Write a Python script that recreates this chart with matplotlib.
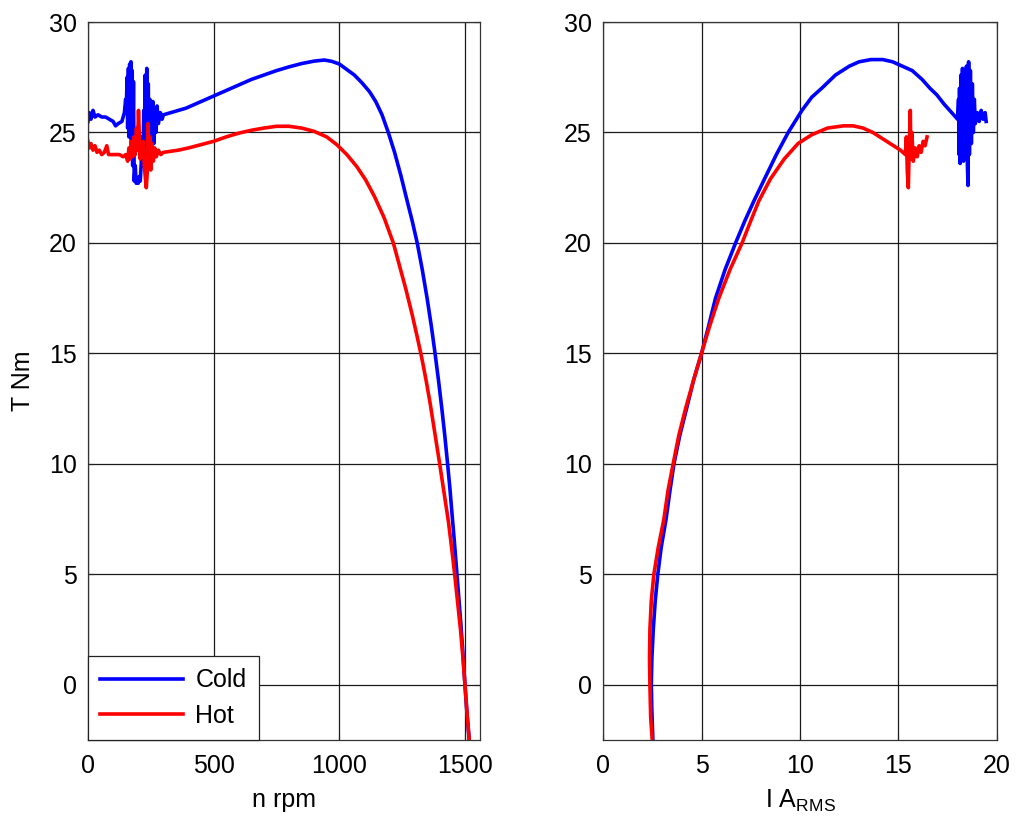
import matplotlib
matplotlib.use("Agg")
import matplotlib.pyplot as plt

plt.rcParams['font.family'] = ['Liberation Sans', 'DejaVu Sans']
plt.rcParams['mathtext.fontset'] = 'custom'
plt.rcParams['mathtext.rm'] = 'Liberation Sans'

# torque vs speed (rpm, Nm)
n_cold = [0, 5, 12, 20, 28, 40, 55, 70, 85, 100, 110, 120, 135, 145, 150,
          152, 156, 158, 161, 163, 166, 168, 171, 173, 176, 178, 181, 184, 188,
          192, 196, 200, 204, 208, 212, 216, 219, 222, 225, 228, 231, 234, 237,
          240, 243, 246, 249, 252, 255, 258, 262, 266, 270, 275, 280, 288, 295,
          300, 330, 360, 390, 420, 450, 500, 550, 600, 650, 700, 750, 800, 850,
          900, 940, 970, 1000, 1030, 1060, 1090, 1120, 1145, 1170, 1195, 1220,
          1245, 1270, 1290, 1310, 1330, 1350, 1366, 1381, 1395, 1408, 1420,
          1430, 1440, 1448, 1457, 1466, 1475, 1484, 1492, 1500, 1508, 1517]
t_cold = [25.5, 25.9, 25.6, 26.0, 25.7, 25.8, 25.7, 25.7, 25.6, 25.5, 25.3,
          25.4, 25.5, 25.9, 26.5,
          26.0, 27.5, 25.2, 27.9, 24.8, 28.1, 25.5, 28.2, 24.0, 27.8, 23.5,
          27.3, 22.8, 23.5, 22.7, 22.9, 22.7, 23.0, 22.8, 23.6, 24.8, 23.5,
          26.0, 25.2, 27.6, 24.0, 27.9, 24.5, 27.2, 23.8, 26.5, 23.6, 26.0,
          24.0, 26.4, 24.5, 26.0, 25.0, 26.2, 25.4, 25.9, 25.6,
          25.8, 25.9, 26.0, 26.1, 26.25, 26.4, 26.65, 26.9, 27.15, 27.4, 27.6,
          27.8, 27.97, 28.12, 28.23, 28.28, 28.22, 28.1, 27.85, 27.6, 27.25,
          26.85, 26.4, 25.8, 25.0, 24.1, 23.05, 21.9, 21.0, 20.0, 18.8, 17.45,
          16.25, 15.0, 13.75, 12.5, 11.25, 10.1, 8.9, 7.8, 6.6, 5.3, 4.0, 2.7,
          1.4, 0.0, -1.3, -2.5]

n_hot = [0, 6, 12, 20, 28, 36, 45, 55, 65, 75, 82, 95, 110, 125, 140, 150,
         158, 163, 168, 173, 178, 183, 188, 193, 197, 201, 205, 208, 212, 216,
         220, 224, 228, 232, 236, 239, 242, 246, 250, 255, 260, 266, 272, 280,
         290, 300, 330, 360, 400, 450, 500, 550, 600, 650, 700, 750, 800, 850,
         900, 950, 990, 1030, 1070, 1105, 1140, 1178, 1215, 1240, 1265, 1290,
         1310, 1328, 1345, 1362, 1380, 1398, 1416, 1434, 1448, 1460, 1472,
         1483, 1492, 1500, 1508, 1517]
t_hot = [24.6, 24.3, 24.5, 24.2, 24.4, 24.1, 24.2, 24.0, 24.1, 24.4, 24.0,
         24.0, 24.0, 24.0, 23.9, 24.0,
         23.7, 24.3, 23.8, 24.6, 23.9, 24.8, 24.0, 25.2, 24.2, 26.0, 24.6,
         23.8, 24.5, 24.0, 24.6, 23.5, 23.0, 22.5, 23.2, 25.4, 23.6, 24.8,
         23.3, 24.5, 23.7, 24.3, 23.9, 24.2, 24.0,
         24.1, 24.15, 24.2, 24.3, 24.45, 24.6, 24.8, 24.97, 25.1, 25.2, 25.28,
         25.28, 25.2, 25.05, 24.8, 24.45, 24.0, 23.45, 22.85, 22.1, 21.15,
         20.0, 18.95, 17.9, 16.75, 15.75, 14.8, 13.8, 12.7, 11.4, 10.1,
         8.75, 7.4, 6.1, 4.9, 3.6, 2.4, 1.2, 0.0, -1.25, -2.5]

# torque vs current (A rms, Nm)
i_cold = [2.53, 2.48, 2.45, 2.48, 2.55, 2.65, 2.78, 2.95, 3.2, 3.4, 3.6, 3.9,
          4.24, 4.6, 5.0, 5.35, 5.71, 6.2, 6.73, 7.2, 7.66, 8.2, 8.8, 9.4,
          10.1, 10.6, 11.1, 11.8, 12.5, 13.0, 13.6, 14.2, 14.7, 15.2, 15.7,
          16.2, 16.6, 16.95, 17.3, 17.6, 18.0,
          18.05, 18.08, 18.1, 18.13, 18.17, 18.2, 18.25, 18.3, 18.35, 18.4,
          18.45, 18.5, 18.53, 18.56, 18.6, 18.65, 18.7, 18.75, 18.8, 18.85,
          18.9, 19.0, 19.1, 19.2, 19.3, 19.4, 19.45]
ti_cold = [-2.5, -1.2, 0.0, 1.2, 2.5, 3.8, 5.0, 6.2, 7.5, 8.8, 10.0, 11.3,
           12.5, 13.8, 15.0, 16.2, 17.5, 18.8, 20.0, 21.0, 21.9, 22.9, 24.0,
           25.0, 26.0, 26.6, 27.0, 27.6, 28.0, 28.2, 28.3, 28.3, 28.2, 28.0,
           27.8, 27.4, 27.0, 26.7, 26.3, 26.0, 25.6,
           26.5, 24.0, 27.0, 23.6, 27.6, 23.8, 27.9, 23.7, 27.5, 24.2, 28.0,
           23.5, 22.6, 28.2, 24.0, 27.8, 24.5, 27.2, 25.0, 26.5, 25.4, 25.9,
           25.5, 26.0, 25.6, 25.9, 25.5]

i_hot = [2.5, 2.42, 2.38, 2.36, 2.38, 2.45, 2.58, 2.8, 3.09, 3.3, 3.56, 3.85,
         4.19, 4.6, 5.0, 5.4, 5.88, 6.45, 7.06, 7.5, 7.91, 8.5, 9.2, 9.9,
         10.6, 11.4, 12.2, 12.7, 13.2, 13.7, 14.4, 15.1, 15.35,
         15.4, 15.45, 15.5, 15.55, 15.6, 15.63, 15.68, 15.75, 15.85, 15.95,
         16.05, 16.15, 16.25, 16.35, 16.45]
ti_hot = [-2.5, -1.5, 0.0, 1.2, 2.5, 3.8, 5.0, 6.2, 7.5, 8.8, 10.0, 11.3,
          12.5, 13.8, 15.0, 16.2, 17.5, 18.8, 20.0, 21.0, 21.9, 22.9, 23.8,
          24.5, 24.9, 25.2, 25.3, 25.3, 25.2, 25.0, 24.6, 24.2, 24.0,
          24.8, 23.2, 22.5, 24.5, 26.0, 23.8, 25.0, 23.7, 24.3, 23.9, 24.4,
          24.1, 24.6, 24.4, 24.8]

fig = plt.figure(figsize=(10.24, 8.31), dpi=100)
ax1 = fig.add_axes([0.0859, 0.1095, 0.3829, 0.8640])
ax2 = fig.add_axes([0.5889, 0.1095, 0.3847, 0.8640])

fs = 18
for ax in (ax1, ax2):
    ax.set_ylim(-2.5, 30)
    ax.set_yticks([0, 5, 10, 15, 20, 25, 30])
    ax.grid(True, color='#1a1a1a', linewidth=0.9)
    ax.set_axisbelow(True)
    ax.tick_params(direction='in', length=4, width=0.8, top=True, right=True,
                   labelsize=fs, color='#222222')
    ax.tick_params(axis='y', pad=8)
    ax.tick_params(axis='x', pad=10)
    for sp in ax.spines.values():
        sp.set_color('#333333')
        sp.set_linewidth(0.9)

ax1.plot(n_cold, t_cold, color='#0000ff', lw=2.6, label='Cold')
ax1.plot(n_hot, t_hot, color='#ff0000', lw=2.6, label='Hot')
ax1.set_xlim(0, 1560)
ax1.set_xticks([0, 500, 1000, 1500])
ax1.set_xlabel('n rpm', fontsize=fs, labelpad=7)
ax1.set_ylabel('T Nm', fontsize=fs, labelpad=10)
leg = ax1.legend(loc='lower left', borderaxespad=0, fontsize=fs,
                 fancybox=False, framealpha=1, edgecolor='#222222',
                 handlelength=3.3, handletextpad=0.5, labelspacing=0.45,
                 borderpad=0.5)
leg.get_frame().set_linewidth(0.9)

ax2.plot(i_cold, ti_cold, color='#0000ff', lw=2.6)
ax2.plot(i_hot, ti_hot, color='#ff0000', lw=2.6)
ax2.set_xlim(0, 20)
ax2.set_xticks([0, 5, 10, 15, 20])
ax2.set_xlabel(r'I A$_{\mathregular{RMS}}$', fontsize=fs, labelpad=7)

fig.savefig('out.png', dpi=100)
